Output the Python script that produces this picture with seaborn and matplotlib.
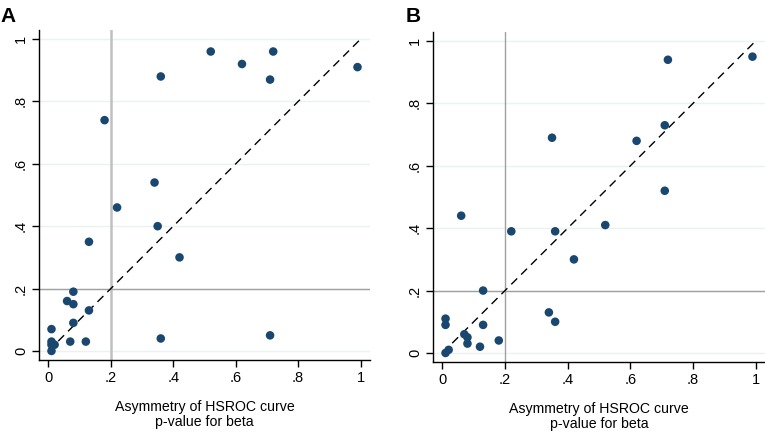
import numpy as np
import pandas as pd
import matplotlib
matplotlib.use('Agg')
import matplotlib.pyplot as plt
import seaborn as sns

# panel A: p-value for beta vs asymmetry
a_x = [0.52, 0.62, 0.72, 0.71, 0.99, 0.36, 0.18, 0.34, 0.22, 0.35, 0.13, 0.42,
       0.08, 0.06, 0.08, 0.13, 0.08, 0.01, 0.01, 0.02, 0.01, 0.01, 0.07, 0.12,
       0.36, 0.71]
a_y = [0.96, 0.92, 0.96, 0.87, 0.91, 0.88, 0.74, 0.54, 0.46, 0.40, 0.35, 0.30,
       0.19, 0.16, 0.15, 0.13, 0.09, 0.07, 0.03, 0.02, 0.02, 0.00, 0.03, 0.03,
       0.04, 0.05]

# panel B
b_x = [0.99, 0.72, 0.71, 0.62, 0.35, 0.71, 0.06, 0.52, 0.22, 0.36, 0.42, 0.13,
       0.34, 0.36, 0.01, 0.01, 0.13, 0.07, 0.08, 0.08, 0.12, 0.18, 0.02, 0.01]
b_y = [0.95, 0.94, 0.73, 0.68, 0.69, 0.52, 0.44, 0.41, 0.39, 0.39, 0.30, 0.20,
       0.13, 0.10, 0.11, 0.09, 0.09, 0.06, 0.05, 0.03, 0.02, 0.04, 0.01, 0.00]

ticks = [0, 0.2, 0.4, 0.6, 0.8, 1.0]
tick_labels = ["0", ".2", ".4", ".6", ".8", "1"]

sns.set_theme(style="white")
plt.rcParams['font.family'] = ['Liberation Sans', 'DejaVu Sans']

W, H = 765, 438
fig = plt.figure(figsize=(W / 100, H / 100), dpi=100)
fig.patch.set_facecolor("white")

panels = [
    ("A", a_x, a_y, (39, 30, 370, 360), "#c0c0c0", 1.8, 0),
    ("B", b_x, b_y, (433, 32, 765, 362), "#a0a0a0", 1.0, 406),
]

for name, xs, ys, (l, t, r, b), vcol, vlw, lab_x in panels:
    ax = fig.add_axes([l / W, 1 - b / H, (r - l) / W, (b - t) / H])
    ax.set_facecolor("white")
    ax.set_xlim(-0.03, 1.03)
    ax.set_ylim(-0.029, 1.029)
    for yv in ticks:
        ax.axhline(yv, color="#eaf2f3", lw=1.0, zorder=0)
    ax.axvline(0.2, color=vcol, lw=vlw, zorder=1)
    ax.axhline(0.2, color="#a0a0a0", lw=1.0, zorder=1)
    ax.plot([0, 1], [0, 1], color="black", lw=1.0, ls=(0, (6, 4)), zorder=2)
    df = pd.DataFrame({"x": xs, "y": ys})
    sns.scatterplot(data=df, x="x", y="y", ax=ax, color="#1a476f", s=38,
                    edgecolor="none", linewidth=0, zorder=3)
    ax.grid(False)
    for s in ["top", "right"]:
        ax.spines[s].set_visible(False)
    for s in ["left", "bottom"]:
        ax.spines[s].set_color("black")
        ax.spines[s].set_linewidth(1.0)
    ax.set_xticks(ticks)
    ax.set_xticklabels(tick_labels)
    ax.set_yticks(ticks)
    ax.set_yticklabels(tick_labels, rotation=90, va="center")
    ax.tick_params(axis="both", direction="out", length=5, width=1.0,
                   color="black", labelsize=10.5, labelcolor="black", pad=3,
                   bottom=True, left=True)
    ax.set_xlabel("Asymmetry of HSROC curve\np-value for beta", fontsize=10.2,
                  color="black", labelpad=11, linespacing=1.05)
    ax.set_ylabel("")
    fig.text(lab_x / W, 1 - 7 / H, name,
             fontsize=15, fontweight="bold", va="top", ha="left", color="black")

fig.savefig("out.png", dpi=100, facecolor="white")
